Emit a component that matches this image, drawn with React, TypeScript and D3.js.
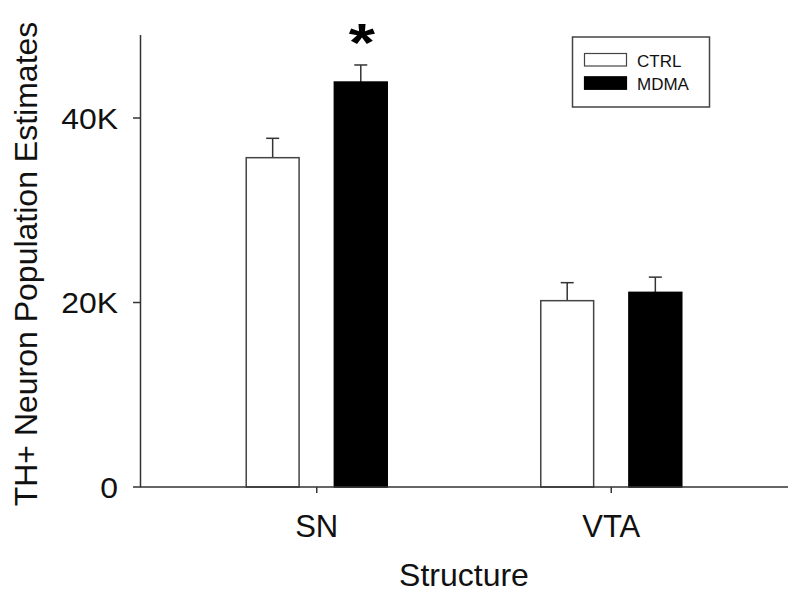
import React from "react";
import * as d3 from "d3";

const categories = ["SN", "VTA"];
const groups = ["CTRL", "MDMA"];
const ctrlValues = [35700, 20200];
const ctrlErrors = [2100, 1950];
const mdmaValues = [43900, 21100];
const mdmaErrors = [1850, 1650];
const yTicks = [0, 20000, 40000];
const yTickLabels = ["0", "20K", "40K"];
const significant = [true, false];

const W = 800;
const H = 598;
const FONT = "'Liberation Sans', Arial, sans-serif";
const AXIS = "#333";

export default function App() {
  const x = d3.scalePoint<string>().domain(categories).range([140, 788]).padding(0.6);
  const inner = d3.scaleBand<string>().domain(groups).range([-70.5, 70.5]).paddingInner(0.4).paddingOuter(0);
  const y = d3.scaleLinear().domain([0, 49000]).range([487, 35]);
  const bw = inner.bandwidth();

  const series = [
    { name: "CTRL", values: ctrlValues, errors: ctrlErrors, fill: "#ffffff" },
    { name: "MDMA", values: mdmaValues, errors: mdmaErrors, fill: "#000000" },
  ];

  return (
    <svg width={W} height={H} style={{ position: "absolute", left: 0, top: 0, background: "#fff" }} fontFamily={FONT}>
      <rect x={0} y={0} width={W} height={H} fill="#fff" />
      {series.map((s) =>
        categories.map((c, i) => {
          const bx = (x(c) as number) + (inner(s.name) as number);
          const cx = bx + bw / 2;
          const top = y(s.values[i]);
          const et = y(s.values[i] + s.errors[i]);
          return (
            <g key={s.name + c}>
              <line x1={cx} x2={cx} y1={top} y2={et} stroke={AXIS} strokeWidth={1.5} />
              <line x1={cx - 6.5} x2={cx + 6.5} y1={et} y2={et} stroke={AXIS} strokeWidth={1.5} />
              <rect x={bx} y={top} width={bw} height={y(0) - top} fill={s.fill} stroke={s.name === "CTRL" ? "#444" : "#000"} strokeWidth={1.5} />
            </g>
          );
        })
      )}
      {categories.map((c, i) => {
        if (!significant[i]) return null;
        const sx = (x(c) as number) + (inner("MDMA") as number) + bw / 2 + 1;
        return (
          <text key={"star" + c} transform={`translate(${sx},61) scale(1.25,1)`} textAnchor="middle" fontSize={54} fontWeight="bold" fill="#000">
            *
          </text>
        );
      })}
      <line x1={140.5} x2={140.5} y1={y(49000)} y2={y(0)} stroke={AXIS} strokeWidth={1.5} />
      {yTicks.map((t, i) => (
        <g key={"yt" + t}>
          <line x1={133} x2={140.5} y1={y(t)} y2={y(t)} stroke={AXIS} strokeWidth={1.5} />
          <text transform={`translate(118,${y(t) + 10.5}) scale(1.1,1)`} textAnchor="end" fontSize={29} fill="#111">
            {yTickLabels[i]}
          </text>
        </g>
      ))}
      <line x1={140} x2={788} y1={y(0)} y2={y(0)} stroke={AXIS} strokeWidth={1.5} />
      {categories.map((c) => (
        <g key={"xt" + c}>
          <line x1={x(c) as number} x2={x(c) as number} y1={y(0)} y2={y(0) + 6} stroke={AXIS} strokeWidth={1.5} />
          <text x={x(c) as number} y={537} textAnchor="middle" fontSize={31} fill="#111">
            {c}
          </text>
        </g>
      ))}
      <text x={464} y={586} textAnchor="middle" fontSize={32} fill="#111">
        Structure
      </text>
      <text transform="translate(37,264) rotate(-90)" textAnchor="middle" fontSize={32} fill="#111">
        TH+ Neuron Population Estimates
      </text>
      <rect x={572.5} y={37} width={137} height={70} fill="#fff" stroke="#444" strokeWidth={1.5} />
      {series.map((s, i) => (
        <g key={"lg" + s.name}>
          <rect x={584.5} y={53.5 + i * 23.3} width={42} height={12.5} fill={s.fill} stroke={s.name === "CTRL" ? "#444" : "#000"} strokeWidth={1.2} />
          <text x={637} y={66.5 + i * 23.3} fontSize={17} fill="#111">
            {s.name}
          </text>
        </g>
      ))}
    </svg>
  );
}
